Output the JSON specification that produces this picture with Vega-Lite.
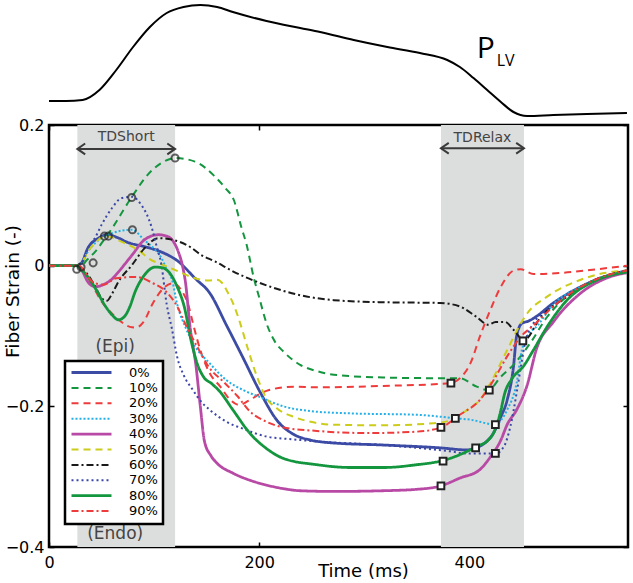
{
  "$schema": "https://vega.github.io/schema/vega-lite/v6.json",
  "background": "white",
  "padding": {"left": 1, "top": 0, "right": 4, "bottom": 0},
  "spacing": 9,
  "bounds": "flush",
  "config": {"font": "DejaVu Sans", "view": {"stroke": null}, "legend": {"strokeWidth": 2.5}},
  "datasets": {
    "pressure": [
      {"t":0,"p":15},{"t":16,"p":15},{"t":32,"p":16},{"t":48,"p":26},{"t":64,"p":46},{"t":80,"p":69},{"t":96,"p":89},{"t":112,"p":103},{"t":128,"p":109},{"t":144,"p":111},{"t":160,"p":109},{"t":175,"p":104},{"t":207,"p":95},{"t":239,"p":88},{"t":258,"p":84},{"t":290,"p":76},{"t":322,"p":69},{"t":353,"p":63},{"t":379,"p":56},{"t":391,"p":49},{"t":404,"p":38},{"t":417,"p":26},{"t":430,"p":14},{"t":442,"p":4},{"t":455,"p":0},{"t":480,"p":1},{"t":512,"p":2},{"t":550,"p":3}
    ],
    "plabel": [{"t":407,"p":58,"label":"P"}],
    "plabel2": [{"t":426,"p":50,"label":"LV"}],
    "bands": [{"t0":27,"t1":120},{"t0":373,"t1":452}],
    "arrows": [{"t0":27,"t1":120,"s":0.166},{"t0":373,"t1":452,"s":0.167}],
    "heads": [{"t":27,"s":0.166,"dir":"l"},{"t":120,"s":0.166,"dir":"r"},{"t":373,"s":0.167,"dir":"l"},{"t":452,"s":0.167,"dir":"r"}],
    "arrowtext": [{"t":73.5,"s":0.183,"label":"TDShort"},{"t":412.5,"s":0.182,"label":"TDRelax"}],
    "regions": [{"t":63,"s":-0.116,"label":"(Epi)"},{"t":63,"s":-0.382,"label":"(Endo)"}],
    "circles": [{"t":26.4,"s":-0.005},{"t":30.5,"s":-0.002},{"t":42,"s":0.004},{"t":52.7,"s":0.042},{"t":56.5,"s":0.042},{"t":78.7,"s":0.097},{"t":79.4,"s":0.051},{"t":120,"s":0.153}],
    "squares": [{"t":382.5,"s":-0.167},{"t":419,"s":-0.177},{"t":386.7,"s":-0.217},{"t":373,"s":-0.23},{"t":424.8,"s":-0.226},{"t":406,"s":-0.259},{"t":424.8,"s":-0.267},{"t":375,"s":-0.278},{"t":373,"s":-0.313},{"t":451,"s":-0.107}],
    "strain": [
      {"layer":"0%","t":0,"s":0},{"layer":"0%","t":26,"s":0},{"layer":"0%","t":31,"s":0.004},{"layer":"0%","t":37,"s":0.025},{"layer":"0%","t":47,"s":0.039},{"layer":"0%","t":56,"s":0.044},{"layer":"0%","t":65,"s":0.04},{"layer":"0%","t":75,"s":0.033},{"layer":"0%","t":91,"s":0.027},{"layer":"0%","t":106,"s":0.02},{"layer":"0%","t":123,"s":0.006},{"layer":"0%","t":139,"s":-0.018},{"layer":"0%","t":153,"s":-0.039},{"layer":"0%","t":169,"s":-0.085},{"layer":"0%","t":185,"s":-0.132},{"layer":"0%","t":201,"s":-0.18},{"layer":"0%","t":217,"s":-0.22},{"layer":"0%","t":233,"s":-0.24},{"layer":"0%","t":249,"s":-0.248},{"layer":"0%","t":270,"s":-0.252},{"layer":"0%","t":318,"s":-0.255},{"layer":"0%","t":372,"s":-0.259},{"layer":"0%","t":398,"s":-0.262},{"layer":"0%","t":406,"s":-0.259},{"layer":"0%","t":414,"s":-0.253},{"layer":"0%","t":423,"s":-0.238},{"layer":"0%","t":430,"s":-0.215},{"layer":"0%","t":436,"s":-0.191},{"layer":"0%","t":442,"s":-0.144},{"layer":"0%","t":445,"s":-0.1},{"layer":"0%","t":450,"s":-0.082},{"layer":"0%","t":456,"s":-0.079},{"layer":"0%","t":462,"s":-0.074},{"layer":"0%","t":480,"s":-0.053},{"layer":"0%","t":506,"s":-0.03},{"layer":"0%","t":530,"s":-0.015},{"layer":"0%","t":550,"s":-0.007},
      {"layer":"10%","t":0,"s":0},{"layer":"10%","t":26,"s":0},{"layer":"10%","t":30,"s":-0.001},{"layer":"10%","t":36,"s":0.008},{"layer":"10%","t":44,"s":0.02},{"layer":"10%","t":52,"s":0.036},{"layer":"10%","t":60,"s":0.053},{"layer":"10%","t":68,"s":0.072},{"layer":"10%","t":75,"s":0.089},{"layer":"10%","t":83,"s":0.107},{"layer":"10%","t":91,"s":0.124},{"layer":"10%","t":99,"s":0.137},{"layer":"10%","t":107,"s":0.146},{"layer":"10%","t":120,"s":0.153},{"layer":"10%","t":139,"s":0.148},{"layer":"10%","t":157,"s":0.128},{"layer":"10%","t":168,"s":0.11},{"layer":"10%","t":176,"s":0.093},{"layer":"10%","t":183,"s":0.055},{"layer":"10%","t":188,"s":0.03},{"layer":"10%","t":195,"s":-0.018},{"layer":"10%","t":200,"s":-0.045},{"layer":"10%","t":207,"s":-0.082},{"layer":"10%","t":215,"s":-0.108},{"layer":"10%","t":223,"s":-0.122},{"layer":"10%","t":239,"s":-0.141},{"layer":"10%","t":255,"s":-0.15},{"layer":"10%","t":271,"s":-0.155},{"layer":"10%","t":318,"s":-0.159},{"layer":"10%","t":372,"s":-0.16},{"layer":"10%","t":391,"s":-0.16},{"layer":"10%","t":407,"s":-0.172},{"layer":"10%","t":418,"s":-0.177},{"layer":"10%","t":430,"s":-0.158},{"layer":"10%","t":442,"s":-0.141},{"layer":"10%","t":458,"s":-0.11},{"layer":"10%","t":474,"s":-0.073},{"layer":"10%","t":506,"s":-0.03},{"layer":"10%","t":530,"s":-0.015},{"layer":"10%","t":550,"s":-0.008},
      {"layer":"20%","t":0,"s":0},{"layer":"20%","t":28,"s":0},{"layer":"20%","t":33,"s":-0.008},{"layer":"20%","t":41,"s":-0.027},{"layer":"20%","t":50,"s":-0.051},{"layer":"20%","t":58,"s":-0.065},{"layer":"20%","t":68,"s":-0.079},{"layer":"20%","t":77,"s":-0.087},{"layer":"20%","t":83,"s":-0.088},{"layer":"20%","t":90,"s":-0.08},{"layer":"20%","t":99,"s":-0.053},{"layer":"20%","t":109,"s":-0.032},{"layer":"20%","t":118,"s":-0.025},{"layer":"20%","t":126,"s":-0.035},{"layer":"20%","t":133,"s":-0.058},{"layer":"20%","t":137,"s":-0.082},{"layer":"20%","t":144,"s":-0.12},{"layer":"20%","t":153,"s":-0.153},{"layer":"20%","t":163,"s":-0.172},{"layer":"20%","t":172,"s":-0.19},{"layer":"20%","t":181,"s":-0.198},{"layer":"20%","t":190,"s":-0.192},{"layer":"20%","t":200,"s":-0.183},{"layer":"20%","t":207,"s":-0.178},{"layer":"20%","t":233,"s":-0.172},{"layer":"20%","t":255,"s":-0.173},{"layer":"20%","t":318,"s":-0.171},{"layer":"20%","t":382,"s":-0.167},{"layer":"20%","t":391,"s":-0.16},{"layer":"20%","t":401,"s":-0.139},{"layer":"20%","t":410,"s":-0.101},{"layer":"20%","t":420,"s":-0.063},{"layer":"20%","t":430,"s":-0.03},{"layer":"20%","t":442,"s":-0.007},{"layer":"20%","t":449,"s":-0.005},{"layer":"20%","t":461,"s":-0.012},{"layer":"20%","t":490,"s":-0.01},{"layer":"20%","t":522,"s":-0.005},{"layer":"20%","t":550,"s":0},
      {"layer":"30%","t":0,"s":0},{"layer":"30%","t":26,"s":0},{"layer":"30%","t":31,"s":0.004},{"layer":"30%","t":37,"s":0.02},{"layer":"30%","t":50,"s":0.039},{"layer":"30%","t":60,"s":0.046},{"layer":"30%","t":70,"s":0.05},{"layer":"30%","t":79,"s":0.051},{"layer":"30%","t":91,"s":0.036},{"layer":"30%","t":102,"s":0.021},{"layer":"30%","t":107,"s":0.011},{"layer":"30%","t":112,"s":-0.005},{"layer":"30%","t":117,"s":-0.02},{"layer":"30%","t":122,"s":-0.055},{"layer":"30%","t":130,"s":-0.088},{"layer":"30%","t":137,"s":-0.11},{"layer":"30%","t":153,"s":-0.139},{"layer":"30%","t":169,"s":-0.163},{"layer":"30%","t":185,"s":-0.177},{"layer":"30%","t":201,"s":-0.187},{"layer":"30%","t":223,"s":-0.2},{"layer":"30%","t":250,"s":-0.207},{"layer":"30%","t":287,"s":-0.21},{"layer":"30%","t":350,"s":-0.212},{"layer":"30%","t":387,"s":-0.217},{"layer":"30%","t":401,"s":-0.219},{"layer":"30%","t":425,"s":-0.226},{"layer":"30%","t":431,"s":-0.218},{"layer":"30%","t":436,"s":-0.205},{"layer":"30%","t":445,"s":-0.167},{"layer":"30%","t":450,"s":-0.12},{"layer":"30%","t":455,"s":-0.101},{"layer":"30%","t":465,"s":-0.085},{"layer":"30%","t":480,"s":-0.055},{"layer":"30%","t":506,"s":-0.03},{"layer":"30%","t":530,"s":-0.015},{"layer":"30%","t":550,"s":-0.007},
      {"layer":"40%","t":0,"s":0},{"layer":"40%","t":26,"s":0},{"layer":"40%","t":31,"s":-0.006},{"layer":"40%","t":37,"s":-0.023},{"layer":"40%","t":44,"s":-0.03},{"layer":"40%","t":53,"s":-0.026},{"layer":"40%","t":60,"s":-0.019},{"layer":"40%","t":66,"s":-0.009},{"layer":"40%","t":79,"s":0.015},{"layer":"40%","t":91,"s":0.037},{"layer":"40%","t":104,"s":0.044},{"layer":"40%","t":112,"s":0.042},{"layer":"40%","t":117,"s":0.037},{"layer":"40%","t":123,"s":0.02},{"layer":"40%","t":127,"s":0},{"layer":"40%","t":130,"s":-0.025},{"layer":"40%","t":134,"s":-0.084},{"layer":"40%","t":140,"s":-0.144},{"layer":"40%","t":144,"s":-0.2},{"layer":"40%","t":148,"s":-0.25},{"layer":"40%","t":154,"s":-0.27},{"layer":"40%","t":160,"s":-0.281},{"layer":"40%","t":175,"s":-0.295},{"layer":"40%","t":191,"s":-0.305},{"layer":"40%","t":207,"s":-0.312},{"layer":"40%","t":223,"s":-0.317},{"layer":"40%","t":239,"s":-0.32},{"layer":"40%","t":271,"s":-0.321},{"layer":"40%","t":318,"s":-0.32},{"layer":"40%","t":350,"s":-0.318},{"layer":"40%","t":373,"s":-0.313},{"layer":"40%","t":391,"s":-0.302},{"layer":"40%","t":410,"s":-0.29},{"layer":"40%","t":420,"s":-0.272},{"layer":"40%","t":430,"s":-0.248},{"layer":"40%","t":436,"s":-0.226},{"layer":"40%","t":445,"s":-0.205},{"layer":"40%","t":455,"s":-0.17},{"layer":"40%","t":464,"s":-0.118},{"layer":"40%","t":480,"s":-0.08},{"layer":"40%","t":506,"s":-0.039},{"layer":"40%","t":530,"s":-0.018},{"layer":"40%","t":550,"s":-0.01},
      {"layer":"50%","t":0,"s":0},{"layer":"50%","t":26,"s":0},{"layer":"50%","t":31,"s":0.004},{"layer":"50%","t":37,"s":0.02},{"layer":"50%","t":45,"s":0.034},{"layer":"50%","t":52,"s":0.041},{"layer":"50%","t":58,"s":0.041},{"layer":"50%","t":66,"s":0.036},{"layer":"50%","t":75,"s":0.03},{"layer":"50%","t":87,"s":0.02},{"layer":"50%","t":95,"s":0.01},{"layer":"50%","t":107,"s":0.002},{"layer":"50%","t":123,"s":-0.008},{"layer":"50%","t":139,"s":-0.018},{"layer":"50%","t":152,"s":-0.021},{"layer":"50%","t":160,"s":-0.02},{"layer":"50%","t":165,"s":-0.025},{"layer":"50%","t":169,"s":-0.035},{"layer":"50%","t":175,"s":-0.053},{"layer":"50%","t":182,"s":-0.082},{"layer":"50%","t":188,"s":-0.112},{"layer":"50%","t":198,"s":-0.158},{"layer":"50%","t":206,"s":-0.186},{"layer":"50%","t":217,"s":-0.203},{"layer":"50%","t":233,"s":-0.215},{"layer":"50%","t":249,"s":-0.222},{"layer":"50%","t":270,"s":-0.226},{"layer":"50%","t":318,"s":-0.227},{"layer":"50%","t":366,"s":-0.224},{"layer":"50%","t":382,"s":-0.22},{"layer":"50%","t":398,"s":-0.205},{"layer":"50%","t":410,"s":-0.191},{"layer":"50%","t":420,"s":-0.167},{"layer":"50%","t":436,"s":-0.12},{"layer":"50%","t":449,"s":-0.082},{"layer":"50%","t":455,"s":-0.068},{"layer":"50%","t":474,"s":-0.044},{"layer":"50%","t":506,"s":-0.02},{"layer":"50%","t":530,"s":-0.01},{"layer":"50%","t":550,"s":-0.007},
      {"layer":"60%","t":0,"s":0},{"layer":"60%","t":26,"s":0},{"layer":"60%","t":31,"s":-0.004},{"layer":"60%","t":37,"s":-0.013},{"layer":"60%","t":44,"s":-0.03},{"layer":"60%","t":50,"s":-0.046},{"layer":"60%","t":55,"s":-0.05},{"layer":"60%","t":60,"s":-0.04},{"layer":"60%","t":66,"s":-0.023},{"layer":"60%","t":79,"s":0.001},{"layer":"60%","t":91,"s":0.025},{"layer":"60%","t":104,"s":0.039},{"layer":"60%","t":117,"s":0.037},{"layer":"60%","t":136,"s":0.025},{"layer":"60%","t":144,"s":0.016},{"layer":"60%","t":158,"s":0.006},{"layer":"60%","t":175,"s":-0.008},{"layer":"60%","t":207,"s":-0.028},{"layer":"60%","t":239,"s":-0.042},{"layer":"60%","t":271,"s":-0.049},{"layer":"60%","t":318,"s":-0.052},{"layer":"60%","t":372,"s":-0.053},{"layer":"60%","t":391,"s":-0.058},{"layer":"60%","t":407,"s":-0.073},{"layer":"60%","t":418,"s":-0.084},{"layer":"60%","t":425,"s":-0.08},{"layer":"60%","t":434,"s":-0.08},{"layer":"60%","t":442,"s":-0.091},{"layer":"60%","t":452,"s":-0.106},{"layer":"60%","t":468,"s":-0.073},{"layer":"60%","t":493,"s":-0.044},{"layer":"60%","t":520,"s":-0.02},{"layer":"60%","t":550,"s":-0.007},
      {"layer":"70%","t":0,"s":0},{"layer":"70%","t":26,"s":0},{"layer":"70%","t":31,"s":0.004},{"layer":"70%","t":37,"s":0.025},{"layer":"70%","t":44,"s":0.04},{"layer":"70%","t":50,"s":0.058},{"layer":"70%","t":60,"s":0.082},{"layer":"70%","t":69,"s":0.096},{"layer":"70%","t":79,"s":0.098},{"layer":"70%","t":88,"s":0.086},{"layer":"70%","t":98,"s":0.053},{"layer":"70%","t":102,"s":0.03},{"layer":"70%","t":107,"s":0.001},{"layer":"70%","t":112,"s":-0.055},{"layer":"70%","t":117,"s":-0.09},{"layer":"70%","t":122,"s":-0.13},{"layer":"70%","t":128,"s":-0.155},{"layer":"70%","t":137,"s":-0.177},{"layer":"70%","t":144,"s":-0.192},{"layer":"70%","t":153,"s":-0.205},{"layer":"70%","t":169,"s":-0.222},{"layer":"70%","t":185,"s":-0.232},{"layer":"70%","t":207,"s":-0.243},{"layer":"70%","t":233,"s":-0.247},{"layer":"70%","t":255,"s":-0.25},{"layer":"70%","t":318,"s":-0.255},{"layer":"70%","t":382,"s":-0.264},{"layer":"70%","t":398,"s":-0.267},{"layer":"70%","t":425,"s":-0.267},{"layer":"70%","t":433,"s":-0.257},{"layer":"70%","t":439,"s":-0.229},{"layer":"70%","t":445,"s":-0.181},{"layer":"70%","t":449,"s":-0.144},{"layer":"70%","t":453,"s":-0.11},{"layer":"70%","t":461,"s":-0.082},{"layer":"70%","t":480,"s":-0.058},{"layer":"70%","t":506,"s":-0.03},{"layer":"70%","t":530,"s":-0.015},{"layer":"70%","t":550,"s":-0.008},
      {"layer":"80%","t":0,"s":0},{"layer":"80%","t":26,"s":0},{"layer":"80%","t":31,"s":-0.006},{"layer":"80%","t":38,"s":-0.018},{"layer":"80%","t":44,"s":-0.032},{"layer":"80%","t":53,"s":-0.056},{"layer":"80%","t":60,"s":-0.07},{"layer":"80%","t":66,"s":-0.077},{"layer":"80%","t":72,"s":-0.072},{"layer":"80%","t":77,"s":-0.058},{"layer":"80%","t":82,"s":-0.037},{"layer":"80%","t":91,"s":-0.013},{"layer":"80%","t":101,"s":-0.002},{"layer":"80%","t":108,"s":-0.003},{"layer":"80%","t":114,"s":-0.009},{"layer":"80%","t":122,"s":-0.03},{"layer":"80%","t":129,"s":-0.06},{"layer":"80%","t":135,"s":-0.105},{"layer":"80%","t":141,"s":-0.139},{"layer":"80%","t":147,"s":-0.158},{"layer":"80%","t":155,"s":-0.168},{"layer":"80%","t":162,"s":-0.178},{"layer":"80%","t":175,"s":-0.205},{"layer":"80%","t":191,"s":-0.238},{"layer":"80%","t":207,"s":-0.26},{"layer":"80%","t":223,"s":-0.274},{"layer":"80%","t":255,"s":-0.283},{"layer":"80%","t":287,"s":-0.287},{"layer":"80%","t":318,"s":-0.287},{"layer":"80%","t":350,"s":-0.283},{"layer":"80%","t":375,"s":-0.277},{"layer":"80%","t":398,"s":-0.264},{"layer":"80%","t":407,"s":-0.257},{"layer":"80%","t":418,"s":-0.248},{"layer":"80%","t":423,"s":-0.238},{"layer":"80%","t":429,"s":-0.212},{"layer":"80%","t":434,"s":-0.18},{"layer":"80%","t":440,"s":-0.162},{"layer":"80%","t":452,"s":-0.142},{"layer":"80%","t":461,"s":-0.12},{"layer":"80%","t":474,"s":-0.087},{"layer":"80%","t":493,"s":-0.049},{"layer":"80%","t":522,"s":-0.02},{"layer":"80%","t":550,"s":-0.009},
      {"layer":"90%","t":0,"s":0},{"layer":"90%","t":28,"s":0},{"layer":"90%","t":33,"s":-0.006},{"layer":"90%","t":37,"s":-0.016},{"layer":"90%","t":44,"s":-0.025},{"layer":"90%","t":52,"s":-0.027},{"layer":"90%","t":64,"s":-0.018},{"layer":"90%","t":83,"s":-0.016},{"layer":"90%","t":99,"s":-0.025},{"layer":"90%","t":110,"s":-0.035},{"layer":"90%","t":122,"s":-0.058},{"layer":"90%","t":131,"s":-0.087},{"layer":"90%","t":141,"s":-0.115},{"layer":"90%","t":153,"s":-0.146},{"layer":"90%","t":166,"s":-0.165},{"layer":"90%","t":179,"s":-0.185},{"layer":"90%","t":191,"s":-0.207},{"layer":"90%","t":207,"s":-0.222},{"layer":"90%","t":223,"s":-0.23},{"layer":"90%","t":255,"s":-0.235},{"layer":"90%","t":302,"s":-0.238},{"layer":"90%","t":350,"s":-0.236},{"layer":"90%","t":373,"s":-0.23},{"layer":"90%","t":391,"s":-0.212},{"layer":"90%","t":410,"s":-0.191},{"layer":"90%","t":423,"s":-0.163},{"layer":"90%","t":436,"s":-0.129},{"layer":"90%","t":449,"s":-0.101},{"layer":"90%","t":461,"s":-0.085},{"layer":"90%","t":480,"s":-0.058},{"layer":"90%","t":506,"s":-0.03},{"layer":"90%","t":530,"s":-0.014},{"layer":"90%","t":550,"s":-0.007}
    ]
  },
  "vconcat": [
    {
      "width": 579,
      "height": 116,
      "layer": [
        {
          "data": {"name": "pressure"},
          "mark": {"type": "line", "color": "black", "strokeWidth": 2, "interpolate": "monotone", "clip": false},
          "encoding": {
            "x": {"field": "t", "type": "quantitative", "scale": {"domain": [0, 551], "nice": false, "zero": false}, "axis": null},
            "y": {"field": "p", "type": "quantitative", "scale": {"domain": [0, 116], "nice": false}, "axis": null}
          }
        },
        {
          "data": {"name": "plabel"},
          "mark": {"type": "text", "font": "Open Sans", "fontSize": 30, "align": "left", "baseline": "alphabetic", "color": "black"},
          "encoding": {
            "x": {"field": "t", "type": "quantitative", "scale": {"domain": [0, 551], "nice": false, "zero": false}, "axis": null},
            "y": {"field": "p", "type": "quantitative", "scale": {"domain": [0, 116], "nice": false}, "axis": null},
            "text": {"field": "label"}
          }
        },
        {
          "data": {"name": "plabel2"},
          "mark": {"type": "text", "font": "Open Sans", "fontSize": 16, "align": "left", "baseline": "alphabetic", "color": "black"},
          "encoding": {
            "x": {"field": "t", "type": "quantitative", "scale": {"domain": [0, 551], "nice": false, "zero": false}, "axis": null},
            "y": {"field": "p", "type": "quantitative", "scale": {"domain": [0, 116], "nice": false}, "axis": null},
            "text": {"field": "label"}
          }
        }
      ]
    },
    {
      "width": 579,
      "height": 422,
      "view": {"stroke": "black", "strokeWidth": 2.5},
      "resolve": {"axis": {"x": "independent", "y": "independent"}},
      "layer": [
        {
          "data": {"name": "bands"},
          "mark": {"type": "rect", "color": "#dcdddd"},
          "encoding": {
            "x": {"field": "t0", "type": "quantitative", "scale": {"domain": [0, 551], "nice": false, "zero": false},
                  "axis": {"orient": "top", "values": [0, 200, 400], "labels": false, "title": null, "domain": false, "grid": false, "tickSize": -5, "tickColor": "black", "tickWidth": 1.5, "minExtent": 0, "maxExtent": 0, "offset": 0}},
            "x2": {"field": "t1"}
          }
        },
        {
          "data": {"name": "strain"},
          "mark": {"type": "line", "interpolate": "monotone"},
          "encoding": {
            "x": {"field": "t", "type": "quantitative", "scale": {"domain": [0, 551], "nice": false, "zero": false},
                  "axis": {"values": [0, 200, 400], "labelFlush": false, "labelFontSize": 16, "labelColor": "black", "tickSize": -5, "tickColor": "black", "tickWidth": 1.5, "labelPadding": 12, "domain": false, "grid": false,
                           "title": "Time (ms)", "titleFontSize": 18, "titleFontWeight": "normal", "titleColor": "black", "titleX": 314, "titleY": 29, "titleAlign": "center", "titleBaseline": "alphabetic"}},
            "y": {"field": "s", "type": "quantitative", "scale": {"domain": [-0.4, 0.2], "nice": false, "zero": false},
                  "axis": {"values": [-0.4, -0.2, 0, 0.2], "labelExpr": "datum.value == 0 ? '0' : format(datum.value, '.1f')", "labelFlush": false, "labelFontSize": 16, "labelColor": "black", "tickSize": -5, "tickColor": "black", "tickWidth": 1.5, "labelPadding": 10, "domain": false, "grid": false,
                           "title": "Fiber Strain (-)", "titleFontSize": 18.5, "titleFontWeight": "normal", "titleColor": "black", "titleAngle": -90, "titleX": -31, "titleY": 166, "titleAlign": "center", "titleBaseline": "alphabetic"}},
            "color": {"field": "layer", "type": "nominal",
                      "scale": {"domain": ["0%","10%","20%","30%","40%","50%","60%","70%","80%","90%"], "range": ["#3c4ca4","#14963f","#ee3b3b","#22b0e6","#b84aa6","#cccc1a","#1a1a1a","#3a46a8","#14963f","#ee3b3b"]},
                      "legend": {"orient": "none", "legendX": 16, "legendY": 361, "title": null, "symbolType": "M -1 0 L 7 0", "symbolSize": 100, "labelFontSize": 13, "labelFont": "DejaVu Sans", "labelColor": "black", "labelOffset": 46, "padding": 5, "strokeColor": "black", "fillColor": "white", "cornerRadius": 0, "rowPadding": 1.4,
                                 "labelExpr": "datum.label == '0%' ? '\u2007' + datum.label : datum.label"}},
            "strokeDash": {"field": "layer", "type": "nominal",
                           "scale": {"domain": ["0%","10%","20%","30%","40%","50%","60%","70%","80%","90%"], "range": [[1,0],[7,5],[7,5],[2,2],[1,0],[7,5],[7,3,2,3],[2,3],[1,0],[7,3,2,3]]},
                           "legend": {"orient": "none", "legendX": 16, "legendY": 361, "title": null, "symbolType": "M -1 0 L 7 0", "symbolSize": 100, "labelFontSize": 13, "labelFont": "DejaVu Sans", "labelColor": "black", "labelOffset": 46, "padding": 5, "strokeColor": "black", "fillColor": "white", "cornerRadius": 0, "rowPadding": 1.4,
                                 "labelExpr": "datum.label == '0%' ? '\u2007' + datum.label : datum.label"}},
            "strokeWidth": {"field": "layer", "type": "nominal",
                            "scale": {"type": "ordinal", "domain": ["0%","10%","20%","30%","40%","50%","60%","70%","80%","90%"], "range": [2.8,2,2,2,2.8,2,2,2,2.8,2]},
                            "legend": {"orient": "none", "legendX": 16, "legendY": 361, "title": null, "symbolType": "M -1 0 L 7 0", "symbolSize": 100, "labelFontSize": 13, "labelFont": "DejaVu Sans", "labelColor": "black", "labelOffset": 46, "padding": 5, "strokeColor": "black", "fillColor": "white", "cornerRadius": 0, "rowPadding": 1.4,
                                 "labelExpr": "datum.label == '0%' ? '\u2007' + datum.label : datum.label"}}
          }
        },
        {
          "data": {"name": "circles"},
          "mark": {"type": "point", "shape": "circle", "filled": false, "stroke": "#222222", "strokeWidth": 2, "size": 50},
          "encoding": {
            "x": {"field": "t", "type": "quantitative", "scale": {"domain": [0, 551], "nice": false, "zero": false}, "axis": null},
            "y": {"field": "s", "type": "quantitative", "scale": {"domain": [-0.4, 0.2], "nice": false, "zero": false}, "axis": null}
          }
        },
        {
          "data": {"name": "squares"},
          "mark": {"type": "point", "shape": "square", "filled": true, "fill": "white", "stroke": "#222222", "strokeWidth": 2, "size": 45, "opacity": 1},
          "encoding": {
            "x": {"field": "t", "type": "quantitative", "scale": {"domain": [0, 551], "nice": false, "zero": false}, "axis": null},
            "y": {"field": "s", "type": "quantitative", "scale": {"domain": [-0.4, 0.2], "nice": false, "zero": false}, "axis": null}
          }
        },
        {
          "data": {"name": "arrows"},
          "mark": {"type": "rule", "color": "#3a3a3a", "strokeWidth": 2},
          "encoding": {
            "x": {"field": "t0", "type": "quantitative", "scale": {"domain": [0, 551], "nice": false, "zero": false}, "axis": null},
            "x2": {"field": "t1"},
            "y": {"field": "s", "type": "quantitative", "scale": {"domain": [-0.4, 0.2], "nice": false, "zero": false},
                  "axis": {"orient": "right", "values": [-0.4, -0.2, 0, 0.2], "labels": false, "title": null, "domain": false, "grid": false, "tickSize": -5, "tickColor": "black", "tickWidth": 1.5, "minExtent": 0, "maxExtent": 0, "offset": 0}}
          }
        },
        {
          "data": {"name": "heads"},
          "mark": {"type": "point", "filled": false, "stroke": "#3a3a3a", "strokeWidth": 2, "size": 144, "opacity": 1},
          "encoding": {
            "x": {"field": "t", "type": "quantitative", "scale": {"domain": [0, 551], "nice": false, "zero": false}, "axis": null},
            "y": {"field": "s", "type": "quantitative", "scale": {"domain": [-0.4, 0.2], "nice": false, "zero": false}, "axis": null},
            "shape": {"field": "dir", "type": "nominal", "scale": {"domain": ["l", "r"], "range": ["M 1.3 -0.9 L 0 0 L 1.3 0.9", "M -1.3 -0.9 L 0 0 L -1.3 0.9"]}, "legend": null}
          }
        },
        {
          "data": {"name": "arrowtext"},
          "mark": {"type": "text", "fontSize": 14, "color": "#444444", "align": "center", "baseline": "middle"},
          "encoding": {
            "x": {"field": "t", "type": "quantitative", "scale": {"domain": [0, 551], "nice": false, "zero": false}, "axis": null},
            "y": {"field": "s", "type": "quantitative", "scale": {"domain": [-0.4, 0.2], "nice": false, "zero": false}, "axis": null},
            "text": {"field": "label"}
          }
        },
        {
          "data": {"name": "regions"},
          "mark": {"type": "text", "fontSize": 17, "color": "#444444", "align": "center", "baseline": "middle"},
          "encoding": {
            "x": {"field": "t", "type": "quantitative", "scale": {"domain": [0, 551], "nice": false, "zero": false}, "axis": null},
            "y": {"field": "s", "type": "quantitative", "scale": {"domain": [-0.4, 0.2], "nice": false, "zero": false}, "axis": null},
            "text": {"field": "label"}
          }
        }
      ]
    }
  ]
}
